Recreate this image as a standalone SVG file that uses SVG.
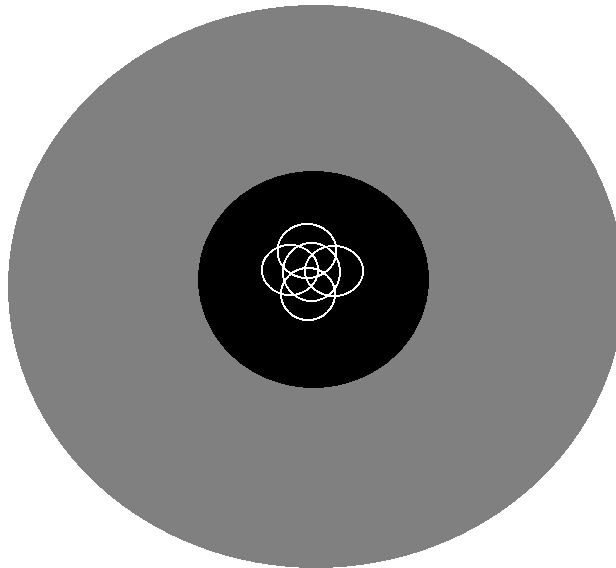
<svg xmlns="http://www.w3.org/2000/svg" width="616" height="568" viewBox="0 0 616 568">
  <style>
    .disc { shape-rendering: crispEdges; }
    .lobe { fill: none; stroke: #ffffff; stroke-width: 2; shape-rendering: crispEdges; }
  </style>
  <rect width="616" height="568" fill="#ffffff"/>
  <g id="outer">
    <ellipse class="disc" cx="316" cy="286.5" rx="308" ry="281.5" fill="#808080"/>
  </g>
  <g id="inner">
    <ellipse class="disc" cx="313.5" cy="279.5" rx="115.5" ry="108.5" fill="#000000"/>
  </g>
  <g id="lobes">
    <ellipse id="lobe-top" class="lobe" cx="307" cy="251" rx="29.5" ry="27"/>
    <ellipse id="lobe-bottom" class="lobe" cx="308" cy="294" rx="27" ry="26"/>
    <ellipse id="lobe-left" class="lobe" cx="290" cy="270" rx="28" ry="25"/>
    <ellipse id="lobe-right" class="lobe" cx="334" cy="271" rx="29" ry="25"/>
    <ellipse id="lobe-center" class="lobe" cx="311.5" cy="272" rx="28.5" ry="29"/>
  </g>
</svg>
